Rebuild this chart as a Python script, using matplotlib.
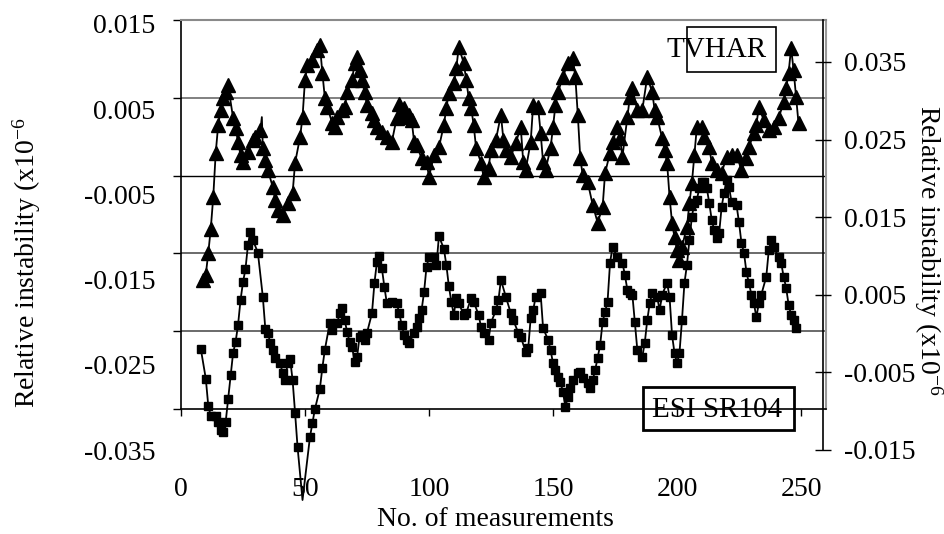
import matplotlib
matplotlib.use("Agg")
import matplotlib.pyplot as plt
from matplotlib.patches import Rectangle

plt.rcParams['font.family'] = ['Liberation Serif', 'DejaVu Serif']
plt.rcParams['mathtext.fontset'] = 'custom'
plt.rcParams['mathtext.rm'] = 'Liberation Serif'

# TVHAR (triangles, right axis)
tvhar_x = [9, 10, 11, 12, 13, 14, 15, 16, 17, 18, 19, 21, 22, 23, 24, 25, 27, 29, 30, 32,
           33, 34, 35, 37, 38, 39, 41, 43, 45, 46, 48, 49, 50, 51, 53, 55, 56, 57, 58, 59,
           61, 62, 63, 65, 66, 67, 69, 70, 71, 72, 73, 74, 75, 77, 78, 79, 81, 83, 85, 87,
           88, 89, 90, 92, 93, 94, 95, 97, 99, 100, 102, 104, 106, 107, 108, 110, 111, 112, 114, 115,
           116, 117, 118, 119, 121, 122, 124, 125, 127, 129, 130, 131, 133, 135, 137, 138, 139, 141, 142, 144,
           145, 146, 147, 149, 150, 151, 152, 154, 156, 158, 159, 160, 161, 162, 164, 166, 168, 170, 171, 173,
           174, 176, 177, 178, 180, 181, 182, 184, 186, 188, 190, 191, 192, 194, 195, 196, 197, 198, 199, 200,
           201, 202, 204, 205, 206, 207, 208, 210, 211, 213, 214, 216, 218, 220, 222, 224, 226, 228, 229, 231,
           232, 233, 235, 237, 239, 241, 243, 244, 245, 246, 247, 248, 249]
tvhar_y = [0.0069, 0.0076, 0.0104, 0.0135, 0.0176, 0.0233, 0.0269, 0.0288, 0.0304, 0.0311, 0.0320, 0.0278, 0.0265, 0.0247, 0.0230, 0.0221, 0.0234, 0.0249, 0.0253, 0.0262,
           0.0239, 0.0224, 0.0211, 0.0189, 0.0172, 0.0159, 0.0153, 0.0168, 0.0181, 0.0220, 0.0253, 0.0279, 0.0327, 0.0346, 0.0353, 0.0365, 0.0372, 0.0336, 0.0304, 0.0292,
           0.0271, 0.0266, 0.0279, 0.0288, 0.0292, 0.0311, 0.0327, 0.0349, 0.0356, 0.0340, 0.0327, 0.0311, 0.0295, 0.0284, 0.0275, 0.0266, 0.0260, 0.0253, 0.0247, 0.0278,
           0.0296, 0.0279, 0.0291, 0.0282, 0.0275, 0.0247, 0.0243, 0.0226, 0.0221, 0.0202, 0.0230, 0.0240, 0.0269, 0.0291, 0.0310, 0.0323, 0.0342, 0.0369, 0.0349, 0.0327,
           0.0304, 0.0291, 0.0269, 0.0239, 0.0220, 0.0202, 0.0213, 0.0237, 0.0250, 0.0282, 0.0250, 0.0237, 0.0228, 0.0246, 0.0266, 0.0221, 0.0211, 0.0247, 0.0295, 0.0292,
           0.0259, 0.0221, 0.0211, 0.0239, 0.0266, 0.0295, 0.0311, 0.0331, 0.0349, 0.0355, 0.0331, 0.0282, 0.0226, 0.0204, 0.0195, 0.0166, 0.0143, 0.0163, 0.0207, 0.0233,
           0.0247, 0.0266, 0.0252, 0.0228, 0.0279, 0.0305, 0.0316, 0.0288, 0.0288, 0.0331, 0.0311, 0.0288, 0.0279, 0.0252, 0.0237, 0.0220, 0.0176, 0.0143, 0.0124, 0.0108,
           0.0095, 0.0112, 0.0137, 0.0168, 0.0194, 0.0230, 0.0266, 0.0266, 0.0253, 0.0240, 0.0220, 0.0211, 0.0207, 0.0228, 0.0230, 0.0230, 0.0211, 0.0226, 0.0240, 0.0259,
           0.0269, 0.0292, 0.0275, 0.0262, 0.0266, 0.0278, 0.0298, 0.0316, 0.0336, 0.0368, 0.0340, 0.0305, 0.0271]

# ESI SR104 (squares, left axis)
esi_x = [8, 10, 11, 12, 14, 15, 16, 17, 18, 19, 20, 21, 22, 23, 24, 25, 26, 27, 28, 29,
         31, 33, 34, 35, 36, 37, 38, 40, 41, 42, 43, 44, 45, 46, 47, 52, 53, 54, 56, 57,
         58, 60, 61, 63, 64, 65, 66, 67, 68, 69, 70, 71, 72, 73, 74, 75, 77, 78, 79, 80,
         81, 82, 83, 85, 87, 88, 89, 90, 91, 92, 94, 95, 96, 97, 98, 99, 100, 102, 103, 104,
         106, 107, 108, 109, 110, 111, 112, 114, 115, 117, 118, 120, 121, 122, 124, 125, 127, 128, 129, 131,
         133, 134, 136, 137, 139, 140, 141, 142, 143, 145, 146, 148, 149, 150, 151, 152, 153, 154, 155, 156,
         157, 158, 160, 161, 162, 164, 165, 166, 167, 168, 169, 170, 171, 172, 173, 174, 176, 178, 179, 180,
         181, 182, 183, 184, 186, 187, 188, 189, 190, 192, 193, 194, 196, 197, 198, 199, 200, 201, 202, 203,
         204, 205, 206, 207, 208, 209, 210, 211, 212, 213, 214, 215, 216, 217, 218, 219, 220, 221, 222, 224,
         225, 226, 227, 228, 229, 230, 231, 232, 233, 234, 236, 237, 238, 239, 241, 242, 243, 244, 245, 246,
         247, 248]
esi_y = [-0.0273, -0.0311, -0.0346, -0.0359, -0.0359, -0.0367, -0.0377, -0.0380, -0.0367, -0.0337,
         -0.0306, -0.0278, -0.0264, -0.0242, -0.0210, -0.0187, -0.0170, -0.0139, -0.0122, -0.0133,
         -0.0149, -0.0206, -0.0247, -0.0252, -0.0265, -0.0274, -0.0284, -0.0291, -0.0304, -0.0313,
         -0.0291, -0.0286, -0.0313, -0.0355, -0.0399, -0.0386, -0.0368, -0.0350, -0.0324, -0.0297,
         -0.0274, -0.0239, -0.0248, -0.0239, -0.0227, -0.0220, -0.0236, -0.0251, -0.0264, -0.0270,
         -0.0290, -0.0283, -0.0257, -0.0255, -0.0261, -0.0252, -0.0227, -0.0188, -0.0161, -0.0153,
         -0.0169, -0.0193, -0.0214, -0.0212, -0.0214, -0.0227, -0.0242, -0.0255, -0.0261, -0.0265,
         -0.0252, -0.0245, -0.0233, -0.0223, -0.0200, -0.0167, -0.0155, -0.0155, -0.0165, -0.0128,
         -0.0144, -0.0165, -0.0192, -0.0212, -0.0229, -0.0207, -0.0214, -0.0229, -0.0227, -0.0207,
         -0.0212, -0.0229, -0.0245, -0.0252, -0.0261, -0.0239, -0.0223, -0.0210, -0.0184, -0.0206,
         -0.0227, -0.0236, -0.0252, -0.0257, -0.0277, -0.0272, -0.0233, -0.0223, -0.0206, -0.0201,
         -0.0246, -0.0261, -0.0274, -0.0291, -0.0300, -0.0309, -0.0315, -0.0328, -0.0347, -0.0335,
         -0.0323, -0.0313, -0.0304, -0.0302, -0.0310, -0.0317, -0.0323, -0.0313, -0.0300, -0.0284,
         -0.0268, -0.0238, -0.0225, -0.0212, -0.0162, -0.0142, -0.0155, -0.0162, -0.0178, -0.0197,
         -0.0201, -0.0203, -0.0238, -0.0274, -0.0283, -0.0265, -0.0236, -0.0214, -0.0201, -0.0206,
         -0.0223, -0.0203, -0.0188, -0.0206, -0.0255, -0.0278, -0.0291, -0.0278, -0.0236, -0.0188,
         -0.0165, -0.0133, -0.0103, -0.0085, -0.0081, -0.0066, -0.0058, -0.0058, -0.0066, -0.0085,
         -0.0107, -0.0120, -0.0130, -0.0124, -0.0090, -0.0072, -0.0056, -0.0065, -0.0084, -0.0088,
         -0.0110, -0.0137, -0.0149, -0.0174, -0.0188, -0.0203, -0.0214, -0.0232, -0.0214, -0.0203,
         -0.0180, -0.0146, -0.0133, -0.0142, -0.0155, -0.0162, -0.0180, -0.0194, -0.0216, -0.0229,
         -0.0236, -0.0246]

# points where the fitted line leaves the markers
esi_line_extra_x = [49]
esi_line_extra_y = [-0.0467]
tvhar_line_extra_x = [32.6]
tvhar_line_extra_y = [0.0279]

left_ticks = [-0.035, -0.025, -0.015, -0.005, 0.005, 0.015]
right_ticks = [-0.015, -0.005, 0.005, 0.015, 0.025, 0.035]
x_ticks = [0, 50, 100, 150, 200, 250]

W, H = 945, 534
FS = 20


def fx(px):
    return px / W


def fy(py):
    return 1 - py / H


def merged(xs, ys, ex, ey):
    pts = sorted(zip(list(xs) + list(ex), list(ys) + list(ey)))
    return [p[0] for p in pts], [p[1] for p in pts]


fig = plt.figure(figsize=(9.45, 5.34), dpi=100)

# main axes: plot frame, gridlines, x axis, squares
ax = fig.add_axes([fx(181), fy(409), fx(826 - 181), (409 - 20) / H])
ax.set_xlim(0, 250 * 645 / 620)
ax.set_ylim(-0.035, 0.015)
ax.set_xticks(x_ticks)
ax.set_xticklabels([str(t) for t in x_ticks], fontsize=FS)
ax.tick_params(axis='x', direction='out', length=5, width=1, pad=44)
ax.set_yticks(left_ticks)
ax.set_yticklabels([])
ax.tick_params(axis='y', direction='out', length=6, width=1)
for v, c, lw in [(0.005, '#808080', 1.4), (-0.005, 'black', 1.0),
                 (-0.015, '#6a6a6a', 1.4), (-0.025, '#6a6a6a', 1.4)]:
    ax.axhline(v, color=c, lw=lw, zorder=1)
ax.spines['top'].set_color('#8a8a8a')
ax.spines['top'].set_linewidth(1.5)
ax.spines['right'].set_color('#9a9a9a')
ax.spines['right'].set_linewidth(1.5)
ax.spines['left'].set_linewidth(1.2)
ax.spines['bottom'].set_linewidth(1.2)

lx, ly = merged(esi_x, esi_y, esi_line_extra_x, esi_line_extra_y)
ax.plot(lx, ly, color='black', lw=1.3, clip_on=False, zorder=3)
ax.plot(esi_x, esi_y, linestyle='none', marker='s', ms=6, color='black',
        clip_on=False, zorder=4)

# right axis: triangles
ax2 = fig.add_axes([fx(181), fy(450), fx(823 - 181), (450 - 20) / H])
ax2.patch.set_visible(False)
ax2.set_xlim(0, 250 * 642 / 620)
ax2.set_ylim(-0.015, 0.035 + 42 / 7760)
for s in ['top', 'left', 'bottom']:
    ax2.spines[s].set_visible(False)
ax2.spines['right'].set_linewidth(1.2)
ax2.set_xticks([])
ax2.yaxis.tick_right()
ax2.set_yticks(right_ticks)
ax2.set_yticklabels(['%.3f' % t for t in right_ticks], fontsize=FS)
ax2.tick_params(axis='y', direction='inout', length=11.5, width=1, pad=9.4)

tx, ty = merged(tvhar_x, tvhar_y, tvhar_line_extra_x, tvhar_line_extra_y)
ax2.plot(tx, ty, color='black', lw=1.3, zorder=3)
ax2.plot(tvhar_x, tvhar_y, linestyle='none', marker='^', ms=10.5, color='black', zorder=4)

# left tick labels sit on their own, slightly stretched scale
ax3 = fig.add_axes([fx(181), fy(450), 0.001, (450 - 24) / H])
ax3.patch.set_visible(False)
for s in ax3.spines.values():
    s.set_visible(False)
ax3.set_xticks([])
ax3.set_ylim(-0.035, 0.015)
ax3.set_yticks(left_ticks)
ax3.set_yticklabels(['%.3f' % t for t in left_ticks], fontsize=FS)
ax3.tick_params(axis='y', length=0, pad=18.5)

# axis titles
ylab = 'Relative instability (x10$\\mathregular{^{-6}}$'
fig.text(fx(27), fy(263), ylab, rotation=90, ha='center', va='center', fontsize=FS)
fig.text(fx(928), fy(250), ylab, rotation=270, ha='center', va='center', fontsize=FS)
fig.text(fx(495), fy(519), 'No. of measurements', ha='center', va='center', fontsize=FS)

# legend labels
fig.text(fx(717), fy(50), 'TVHAR', ha='center', va='center', fontsize=21)
fig.patches.append(Rectangle((fx(687), fy(72)), fx(776 - 687), (72 - 27) / H,
                             transform=fig.transFigure, fill=False, ec='black', lw=1.2))
fig.text(fx(717), fy(410), 'ESI SR104', ha='center', va='center', fontsize=21)
fig.patches.append(Rectangle((fx(643), fy(430)), fx(794 - 643), (430 - 387) / H,
                             transform=fig.transFigure, fill=False, ec='black', lw=2.0))

fig.savefig('out.png', dpi=100)
